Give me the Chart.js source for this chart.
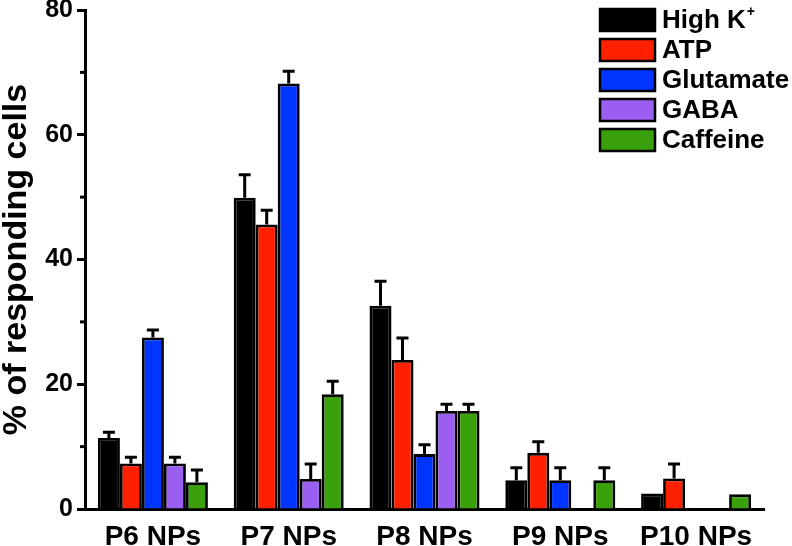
<!DOCTYPE html>
<html>
<head>
<meta charset="utf-8">
<script src="https://cdn.jsdelivr.net/npm/chart.js@4"></script>
<style>
  html, body { margin: 0; padding: 0; background: #fff; }
  #wrap { width: 792px; height: 546px; position: relative; }
</style>
</head>
<body>
<div id="wrap"><canvas id="c" width="792" height="546"></canvas></div>
<script>
const categories = ['P6 NPs', 'P7 NPs', 'P8 NPs', 'P9 NPs', 'P10 NPs'];
const seriesNames = ['High K+', 'ATP', 'Glutamate', 'GABA', 'Caffeine'];
const highK = [11.4, 49.9, 32.6, 4.6, 2.5];
const highKErr = [0.9, 3.7, 3.9, 2.0, 0];
const atp = [7.3, 45.6, 23.9, 9.0, 4.9];
const atpErr = [1.0, 2.3, 3.5, 1.8, 2.3];
const glutamate = [27.5, 68.2, 8.8, 4.6, 0];
const glutamateErr = [1.2, 2.0, 1.5, 2.0, 0];
const gaba = [7.3, 4.8, 15.7, 0, 0];
const gabaErr = [1.0, 2.4, 1.1, 0, 0];
const caffeine = [4.3, 18.4, 15.7, 4.6, 2.35];
const caffeineErr = [1.95, 2.1, 1.1, 2.0, 0];
const yTicks = [0, 20, 40, 60, 80];
const yMinorTicks = [10, 30, 50, 70];

const colors = ['#000000', '#ff2000', '#0035ff', '#9a5ef0', '#3aa00c'];
const values = [highK, atp, glutamate, gaba, caffeine];
const errors = [highKErr, atpErr, glutamateErr, gabaErr, caffeineErr];

const FONT = "'Liberation Sans', Arial, Helvetica, sans-serif";

const datasets = seriesNames.map((name, i) => ({
  label: name,
  data: values[i],
  errors: errors[i],
  backgroundColor: colors[i],
  borderColor: '#000',
  borderWidth: 2.8,
  borderSkipped: 'start',
  categoryPercentage: 0.81,
  barPercentage: 1.0
}));

const errorBars = {
  id: 'errorBars',
  afterDatasetsDraw(chart) {
    const ctx = chart.ctx;
    const y = chart.scales.y;
    ctx.save();
    ctx.strokeStyle = '#000';
    ctx.lineWidth = 3;
    chart.data.datasets.forEach((ds, i) => {
      const meta = chart.getDatasetMeta(i);
      meta.data.forEach((bar, j) => {
        const e = ds.errors[j];
        const v = ds.data[j];
        if (!e || !v) return;
        const top = y.getPixelForValue(v + e);
        ctx.beginPath();
        ctx.moveTo(bar.x, bar.y);
        ctx.lineTo(bar.x, top);
        ctx.moveTo(bar.x - 6, top);
        ctx.lineTo(bar.x + 6, top);
        ctx.stroke();
      });
    });
    ctx.restore();
  }
};

const minorTicks = {
  id: 'minorTicks',
  afterDraw(chart) {
    const ctx = chart.ctx;
    const y = chart.scales.y;
    const left = chart.chartArea.left;
    ctx.save();
    ctx.strokeStyle = '#000';
    ctx.lineWidth = 3;
    yMinorTicks.forEach(v => {
      const py = y.getPixelForValue(v);
      ctx.beginPath();
      ctx.moveTo(left - 5, py);
      ctx.lineTo(left, py);
      ctx.stroke();
    });
    ctx.restore();
  }
};

const customLegend = {
  id: 'customLegend',
  afterDraw(chart) {
    const ctx = chart.ctx;
    ctx.save();
    const x0 = 600, bw = 55, bh = 22, y0 = 20, step = 30;
    chart.data.datasets.forEach((ds, i) => {
      const cy = y0 + i * step;
      ctx.fillStyle = ds.backgroundColor;
      ctx.fillRect(x0, cy - bh / 2, bw, bh);
      ctx.strokeStyle = '#000';
      ctx.lineWidth = 2.5;
      ctx.strokeRect(x0, cy - bh / 2, bw, bh);
      ctx.fillStyle = '#000';
      ctx.textBaseline = 'middle';
      ctx.textAlign = 'left';
      ctx.font = 'bold 26px ' + FONT;
      let label = ds.label;
      let sup = '';
      if (label.endsWith('+')) { sup = '+'; label = label.slice(0, -1); }
      ctx.fillText(label, x0 + 62, cy + 1);
      if (sup) {
        const w = ctx.measureText(label).width;
        ctx.font = 'bold 14px ' + FONT;
        ctx.fillText(sup, x0 + 62 + w + 1, cy - 8);
      }
    });
    ctx.restore();
  }
};

new Chart(document.getElementById('c'), {
  type: 'bar',
  data: { labels: categories, datasets: datasets },
  plugins: [errorBars, minorTicks, customLegend],
  options: {
    responsive: false,
    animation: false,
    events: [],
    layout: { padding: { top: 0, right: 28, left: 0, bottom: 0 } },
    plugins: { legend: { display: false }, tooltip: { enabled: false } },
    scales: {
      x: {
        grid: { display: false, drawTicks: false },
        border: { display: true, color: '#000', width: 3 },
        ticks: {
          color: '#000',
          font: { family: FONT, size: 28, weight: 'bold', lineHeight: 1 },
          padding: 14,
          maxRotation: 0,
          autoSkip: false
        },
        afterFit(scale) { scale.height = 37; }
      },
      y: {
        min: 0,
        max: 80,
        afterBuildTicks(scale) { scale.ticks = yTicks.map(v => ({ value: v })); },
        grid: { drawOnChartArea: false, drawTicks: true, tickLength: 8, tickWidth: 3, tickColor: '#000' },
        border: { display: true, color: '#000', width: 3 },
        ticks: {
          color: '#000',
          font: { family: FONT, size: 25, weight: 'bold', lineHeight: 1 },
          padding: 4
        },
        title: {
          display: true,
          text: '% of responding cells',
          color: '#000',
          font: { family: FONT, size: 34, weight: 'bold', lineHeight: 1 },
          padding: { top: 0, bottom: 0 }
        },
        afterFit(scale) { scale.width = 85; scale.paddingTop = 10; }
      }
    }
  }
});
</script>
</body>
</html>
